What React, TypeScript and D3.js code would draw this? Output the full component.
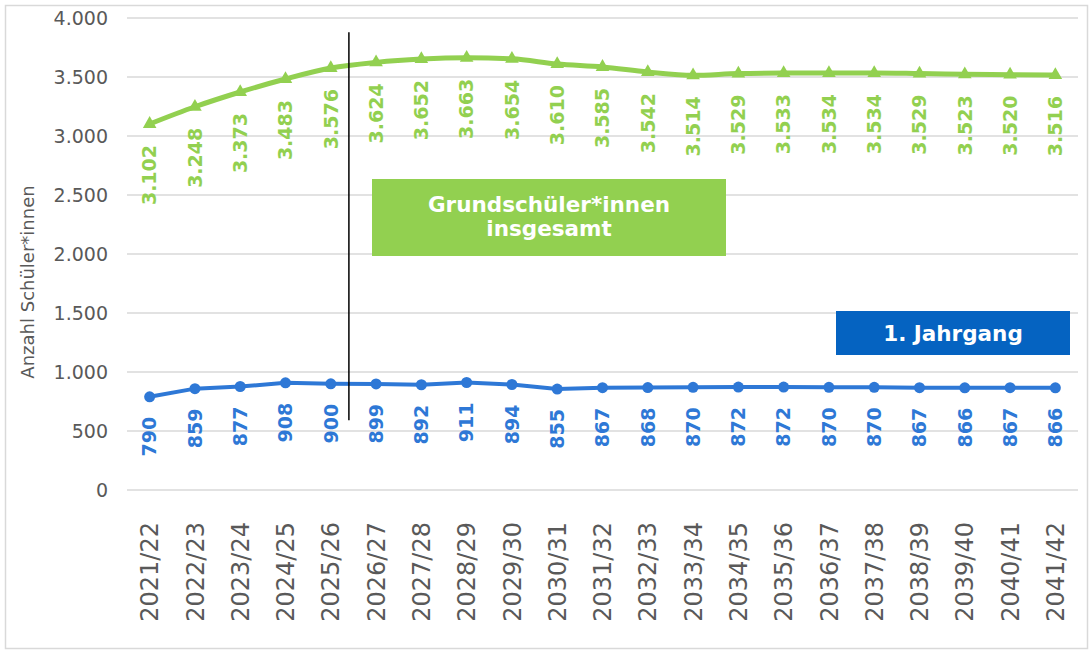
import React from "react";
import * as d3 from "d3";

const years = [
  "2021/22", "2022/23", "2023/24", "2024/25", "2025/26", "2026/27", "2027/28",
  "2028/29", "2029/30", "2030/31", "2031/32", "2032/33", "2033/34", "2034/35",
  "2035/36", "2036/37", "2037/38", "2038/39", "2039/40", "2040/41", "2041/42"
];
const totalValues = [
  3102, 3248, 3373, 3483, 3576, 3624, 3652, 3663, 3654, 3610, 3585, 3542,
  3514, 3529, 3533, 3534, 3534, 3529, 3523, 3520, 3516
];
const firstGradeValues = [
  790, 859, 877, 908, 900, 899, 892, 911, 894, 855, 867, 868, 870, 872, 872,
  870, 870, 867, 866, 867, 866
];
const yTicks = [0, 500, 1000, 1500, 2000, 2500, 3000, 3500, 4000];

const width = 1091;
const height = 652;
const green = "#92D050";
const blue = "#2E78D6";
const boxBlue = "#0563C1";
const grey = "#595959";
const font = "'DejaVu Sans', Verdana, sans-serif";

const de = d3.formatLocale({ decimal: ",", thousands: ".", grouping: [3], currency: ["", " €"] });
const fmt = de.format(",d");

export default function App() {
  const x = d3.scalePoint<string>().domain(years).range([127, 1078]).padding(0.5);
  const y = d3.scaleLinear().domain([0, 4000]).range([490, 18]);

  const totalLine = d3
    .line<number>()
    .x((_, i) => x(years[i]) as number)
    .y(d => y(d))
    .curve(d3.curveMonotoneX);
  const firstLine = d3
    .line<number>()
    .x((_, i) => x(years[i]) as number)
    .y(d => y(d));

  const tri = d3.symbol().type(d3.symbolTriangle).size(80)();
  // Trennlinie zwischen Ist- und Prognosejahren
  const cutX = (x(years[4]) as number) + x.step() * 0.4;

  return (
    <div style={{ position: "absolute", left: 0, top: 0 }}>
      <svg width={width} height={height} style={{ display: "block", background: "#fff" }}>
        <rect x={5.5} y={5.5} width={1082} height={643} fill="none" stroke="#D9D9D9" strokeWidth={1.5} />
        {yTicks.map(t => (
          <g key={t}>
            <line x1={127} x2={1078} y1={y(t)} y2={y(t)} stroke="#D9D9D9" strokeWidth={1.5} />
            <text x={108} y={y(t)} dy="0.36em" textAnchor="end" fontFamily={font} fontSize={19} fill={grey}>
              {fmt(t)}
            </text>
          </g>
        ))}
        <text
          transform={`translate(34,${282}) rotate(-90)`}
          textAnchor="middle"
          fontFamily={font}
          fontSize={18}
          fill={grey}
        >
          Anzahl Schüler*innen
        </text>
        {years.map(yr => (
          <text
            key={yr}
            transform={`translate(${x(yr)},522) rotate(-90)`}
            dy="0.36em"
            textAnchor="end"
            fontFamily={font}
            fontSize={24}
            fill={grey}
          >
            {yr}
          </text>
        ))}

        <path d={totalLine(totalValues) as string} fill="none" stroke={green} strokeWidth={5} />
        {totalValues.map((v, i) => (
          <g key={i}>
            <path d={tri as string} transform={`translate(${x(years[i])},${y(v)})`} fill={green} />
            <text
              transform={`translate(${x(years[i])},${y(v) + 21}) rotate(-90)`}
              dy="0.36em"
              textAnchor="end"
              fontFamily={font}
              fontWeight="bold"
              fontSize={19}
              fill={green}
            >
              {fmt(v)}
            </text>
          </g>
        ))}

        <path d={firstLine(firstGradeValues) as string} fill="none" stroke={blue} strokeWidth={4} />
        {firstGradeValues.map((v, i) => (
          <g key={i}>
            <circle cx={x(years[i])} cy={y(v)} r={5.5} fill={blue} />
            <text
              transform={`translate(${x(years[i])},${y(v) + 20}) rotate(-90)`}
              dy="0.36em"
              textAnchor="end"
              fontFamily={font}
              fontWeight="bold"
              fontSize={19}
              fill={blue}
            >
              {fmt(v)}
            </text>
          </g>
        ))}

        <line x1={cutX} x2={cutX} y1={y(3880)} y2={y(592)} stroke="#000" strokeWidth={1.5} />

        <rect x={372} y={179} width={354} height={77} fill={green} />
        <text textAnchor="middle" fontFamily={font} fontWeight="bold" fontSize={21.5} fill="#fff">
          <tspan x={549} y={212}>Grundschüler*innen</tspan>
          <tspan x={549} y={236}>insgesamt</tspan>
        </text>

        <rect x={836} y={311} width={234} height={44} fill={boxBlue} />
        <text x={953} y={341} textAnchor="middle" fontFamily={font} fontWeight="bold" fontSize={21.5} fill="#fff">
          1. Jahrgang
        </text>
      </svg>
    </div>
  );
}
